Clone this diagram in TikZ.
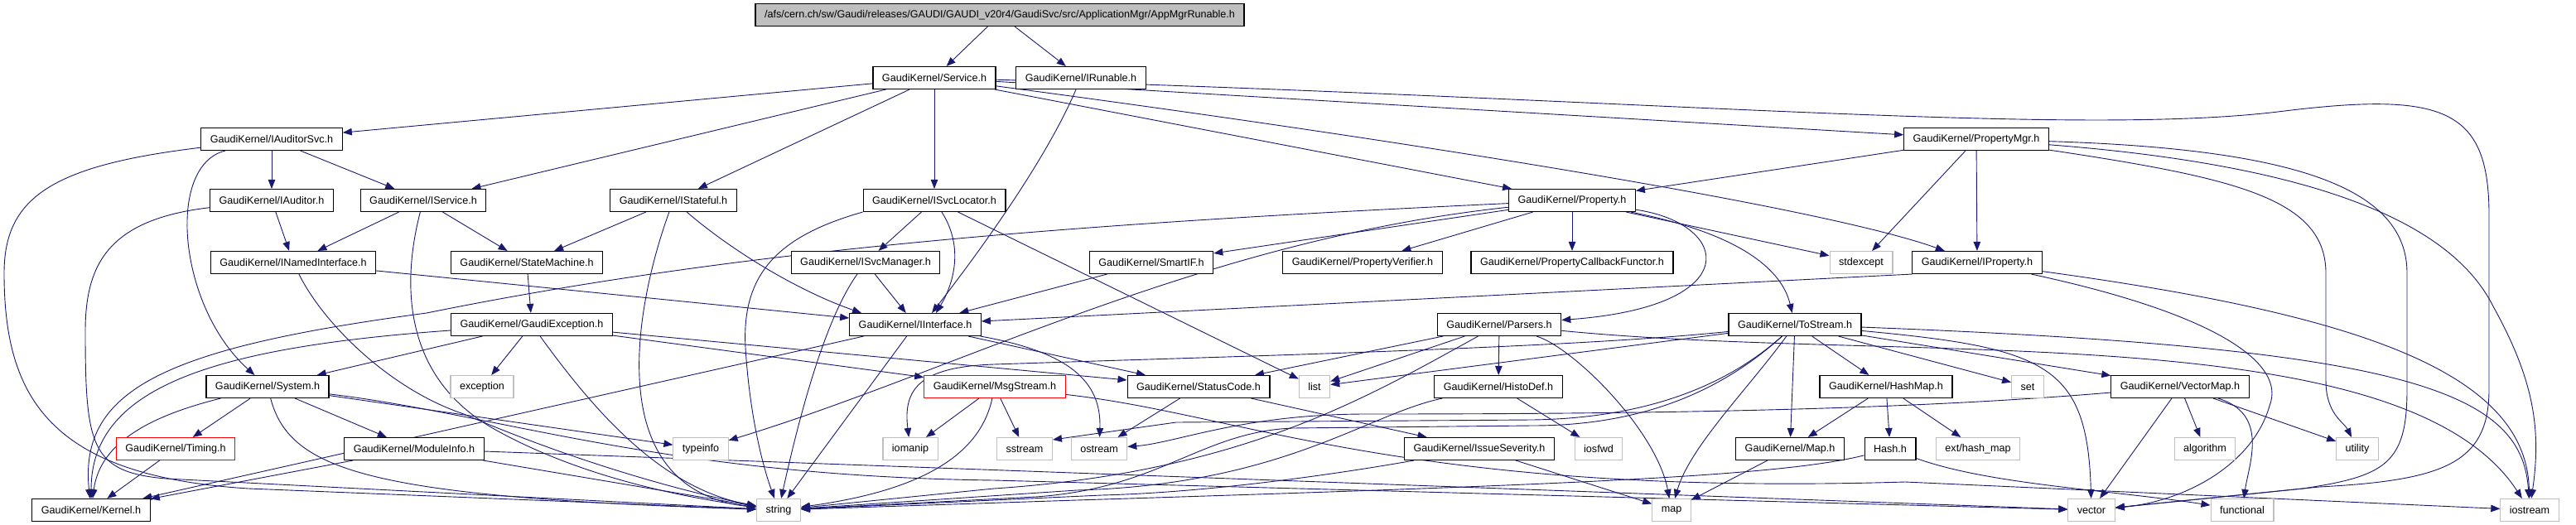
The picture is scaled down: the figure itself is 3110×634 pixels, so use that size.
\documentclass[tikz,border=0pt]{standalone}
\usepackage{fontspec}
\setmainfont{Liberation Sans}
\usetikzlibrary{arrows.meta}
\definecolor{edgeblue}{RGB}{25,25,112}
\definecolor{sysgray}{RGB}{191,191,191}
\newcommand{\gk}[1]{GaudiKernel/#1}
\pgfdeclarelayer{edges}
\pgfsetlayers{edges,main}

\begin{document}
\begin{tikzpicture}[x=1pt,y=1pt,
  hdr/.style={draw=black,fill=white,line width=1.1pt,minimum height=27pt,inner xsep=11pt,inner ysep=0pt,font=\fontsize{12.6}{15}\selectfont},
  syshdr/.style={hdr,draw=sysgray},
  cuthdr/.style={hdr,draw=red},
  tophdr/.style={hdr,fill=sysgray},
  inc/.style={draw=edgeblue,line width=0.9pt,-{Triangle[length=11pt,width=8.5pt]}}]
\useasboundingbox (0,0) rectangle (3110,-634);

\node[tophdr] (root) at (1207,-18) {/afs/cern.ch/sw/Gaudi/releases/GAUDI/GAUDI\_v20r4/GaudiSvc/src/ApplicationMgr/AppMgrRunable.h};
\node[hdr] (service) at (1128,-94) {\gk{Service.h}};
\node[hdr] (irunable) at (1305,-94) {\gk{IRunable.h}};
\node[hdr] (iauditorsvc) at (328,-168) {\gk{IAuditorSvc.h}};
\node[hdr] (propmgr) at (2386,-168) {\gk{PropertyMgr.h}};
\node[hdr] (iauditor) at (328,-242) {\gk{IAuditor.h}};
\node[hdr] (iservice) at (511,-242) {\gk{IService.h}};
\node[hdr] (istateful) at (813,-242) {\gk{IStateful.h}};
\node[hdr] (isvcloc) at (1128,-242) {\gk{ISvcLocator.h}};
\node[hdr] (property) at (1898,-242) {\gk{Property.h}};
\node[hdr] (inamed) at (354,-317) {\gk{INamedInterface.h}};
\node[hdr] (statemachine) at (636,-317) {\gk{StateMachine.h}};
\node[hdr] (isvcmgr) at (1045,-317) {\gk{ISvcManager.h}};
\node[hdr] (smartif) at (1390,-317) {\gk{SmartIF.h}};
\node[hdr] (propverif) at (1645,-317) {\gk{PropertyVerifier.h}};
\node[hdr] (propcb) at (1898,-317) {\gk{PropertyCallbackFunctor.h}};
\node[syshdr] (stdexcept) at (2247,-317) {stdexcept};
\node[hdr] (iproperty) at (2387,-317) {\gk{IProperty.h}};
\node[hdr] (gexcept) at (642,-392) {\gk{GaudiException.h}};
\node[hdr] (iinterface) at (1105,-392) {\gk{IInterface.h}};
\node[hdr] (parsers) at (1810,-392) {\gk{Parsers.h}};
\node[hdr] (tostream) at (2167,-392) {\gk{ToStream.h}};
\node[hdr] (system) at (323,-467) {\gk{System.h}};
\node[syshdr] (exception) at (582,-467) {exception};
\node[cuthdr] (msgstream) at (1201,-467) {\gk{MsgStream.h}};
\node[hdr] (statuscode) at (1447,-467) {\gk{StatusCode.h}};
\node[syshdr] (list) at (1587,-467) {list};
\node[hdr] (histodef) at (1809,-467) {\gk{HistoDef.h}};
\node[hdr] (hashmap) at (2277,-467) {\gk{HashMap.h}};
\node[syshdr] (set) at (2448,-467) {set};
\node[hdr] (vectormap) at (2632,-467) {\gk{VectorMap.h}};
\node[cuthdr] (timing) at (212,-542) {\gk{Timing.h}};
\node[hdr] (moduleinfo) at (500,-542) {\gk{ModuleInfo.h}};
\node[syshdr] (typeinfo) at (846,-542) {typeinfo};
\node[syshdr] (iomanip) at (1099,-542) {iomanip};
\node[syshdr] (sstream) at (1237,-542) {sstream};
\node[syshdr] (ostream) at (1327,-542) {ostream};
\node[hdr] (issuesev) at (1786,-542) {\gk{IssueSeverity.h}};
\node[syshdr] (iosfwd) at (1930,-542) {iosfwd};
\node[hdr] (gkmap) at (2161,-542) {\gk{Map.h}};
\node[hdr] (hash) at (2282,-542) {Hash.h};
\node[syshdr] (hashmapext) at (2388,-542) {ext/hash\_map};
\node[syshdr] (algorithm) at (2662,-542) {algorithm};
\node[syshdr] (utility) at (2846,-542) {utility};
\node[hdr] (kernel) at (110,-616) {\gk{Kernel.h}};
\node[syshdr] (string) at (940,-616) {string};
\node[syshdr] (stdmap) at (2018,-616) {map};
\node[syshdr] (vector) at (2525,-616) {vector};
\node[syshdr] (functional) at (2707,-616) {functional};
\node[syshdr] (iostream) at (3054,-616) {iostream};

\begin{pgfonlayer}{edges}
\draw[inc] (root) -- (service);
\draw[inc] (root) -- (irunable);

\draw[inc] (service) -- (iauditorsvc);
\draw[inc] (service) -- (iservice);
\draw[inc] (service) -- (istateful);
\draw[inc] (service) -- (isvcloc);
\draw[inc] (service) -- (property);
\draw[inc] (service) -- (propmgr);
\draw[inc] (service) .. controls (1700,-170) and (2200,-250) .. (iproperty);
\draw[inc] (service) .. controls (2000,-120) and (2500,-165) .. (2750,-135) .. controls (2950,-110) and (3005,-130) .. (3005,-260) -- (3005,-470) .. controls (3005,-560) and (2950,-580) .. (2800,-588) -- (vector);

\draw[inc] (irunable) .. controls (1260,-200) and (1170,-320) .. ([xshift=20pt]iinterface.north);

\draw[inc] (iauditorsvc) -- (iauditor);
\draw[inc] (iauditorsvc) -- (iservice);
\draw[inc] (iauditorsvc) .. controls (200,-200) and (215,-370) .. (system);
\draw[inc] (iauditorsvc) .. controls (60,-200) and (5,-240) .. (5,-330) .. controls (5,-480) and (60,-575) .. (300,-590) -- (string);

\draw[inc] (iauditor) -- (inamed);
\draw[inc] (iauditor) .. controls (130,-265) and (103,-320) .. (103,-400) .. controls (103,-540) and (110,-570) .. (200,-578) -- (string);

\draw[inc] (iservice) -- (inamed);
\draw[inc] (iservice) -- (statemachine);
\draw[inc] (iservice) .. controls (483,-350) and (490,-460) .. (600,-520) .. controls (700,-575) and (820,-600) .. (string);

\draw[inc] (inamed) -- (iinterface);
\draw[inc] (inamed) .. controls (390,-390) and (470,-470) .. (560,-500) .. controls (700,-560) and (830,-595) .. (string);

\draw[inc] (istateful) -- (statemachine);
\draw[inc] (istateful) .. controls (880,-300) and (960,-350) .. ([xshift=-65pt]iinterface.north);
\draw[inc] (istateful) .. controls (770,-360) and (720,-590) .. (string);

\draw[inc] (statemachine) -- (gexcept);

\draw[inc] (isvcloc) -- (isvcmgr);
\draw[inc] (isvcloc) .. controls (1165,-300) and (1150,-345) .. ([xshift=25pt]iinterface.north);
\draw[inc] (isvcloc.south west) .. controls (940,-285) and (895,-330) .. (900,-420) .. controls (905,-500) and (920,-560) .. (string);
\draw[inc] (isvcloc) -- (list);

\draw[inc] (isvcmgr) -- (iinterface);
\draw[inc] (isvcmgr) .. controls (1000,-380) and (970,-480) .. (string);

\draw[inc] (smartif) -- (iinterface);

\draw[inc] (property) -- (smartif);
\draw[inc] (property) -- (propverif);
\draw[inc] (property) -- (propcb);
\draw[inc] (property) -- (stdexcept);
\draw[inc] (property) .. controls (2090,-270) and (2110,-370) .. (parsers);
\draw[inc] (property) .. controls (2090,-280) and (2150,-320) .. (tostream);
\draw[inc] (property) .. controls (1300,-270) and (900,-300) .. (515,-378) .. controls (200,-420) and (95,-470) .. (kernel);
\draw[inc] (property) .. controls (1450,-290) and (1150,-450) .. (typeinfo);

\draw[inc] (propmgr) -- (property);
\draw[inc] (propmgr) -- (stdexcept);
\draw[inc] (propmgr) -- (iproperty);
\draw[inc] (propmgr) .. controls (2700,-215) and (2808,-240) .. (2808,-330) -- (2808,-460) .. controls (2808,-500) and (2830,-510) .. (utility);
\draw[inc] (propmgr) .. controls (2780,-180) and (2906,-230) .. (2906,-330) -- (2906,-470) .. controls (2906,-560) and (2880,-575) .. (2780,-590) -- (vector);
\draw[inc] (propmgr) .. controls (2800,-200) and (2960,-270) .. (3010,-370) .. controls (3060,-460) and (3068,-520) .. (iostream);

\draw[inc] (iproperty.south west) -- (iinterface);
\draw[inc] (iproperty) .. controls (2850,-380) and (3050,-450) .. (iostream);
\draw[inc] (iproperty) .. controls (2680,-380) and (2760,-440) .. (2740,-490) .. controls (2720,-560) and (2640,-605) .. (vector);

\draw[inc] (gexcept) .. controls (250,-420) and (110,-470) .. (kernel);
\draw[inc] (gexcept) -- (system);
\draw[inc] (gexcept) -- (exception);
\draw[inc] (gexcept) -- (msgstream);
\draw[inc] (gexcept) -- (statuscode);
\draw[inc] (gexcept) .. controls (720,-500) and (800,-590) .. (string);

\draw[inc] (iinterface) -- (kernel);
\draw[inc] (iinterface) -- (string);
\draw[inc] (iinterface) -- (statuscode);
\draw[inc] (iinterface) .. controls (1290,-425) and (1330,-460) .. (ostream);

\draw[inc] (system) .. controls (170,-505) and (120,-540) .. (kernel);
\draw[inc] (system) -- (timing);
\draw[inc] (system) -- (moduleinfo);
\draw[inc] (system) -- (typeinfo);
\draw[inc] (system) .. controls (350,-570) and (450,-600) .. (string);
\draw[inc] (system) .. controls (600,-500) and (800,-575) .. (1200,-580) -- (vector);

\draw[inc] (timing) -- (kernel);

\draw[inc] (moduleinfo) -- (kernel);
\draw[inc] (moduleinfo) -- (string);
\draw[inc] (moduleinfo) -- (vector);

\draw[inc] (msgstream) -- (iomanip);
\draw[inc] (msgstream) -- (sstream);
\draw[inc] (msgstream) .. controls (1185,-540) and (1130,-590) .. (string);
\draw[inc] (msgstream) .. controls (1500,-500) and (1700,-600) .. (2300,-582) -- (iostream);

\draw[inc] (statuscode) -- (ostream);
\draw[inc] (statuscode) -- (issuesev);

\draw[inc] (parsers) -- (histodef);
\draw[inc] (parsers) -- (statuscode);
\draw[inc] (parsers) -- (list);
\draw[inc] (parsers) .. controls (1900,-420) and (2000,-520) .. (stdmap);
\draw[inc] (parsers) .. controls (1650,-480) and (1500,-570) .. (1200,-590) -- (string);
\draw[inc] (parsers) .. controls (2300,-440) and (2900,-380) .. (iostream);

\draw[inc] (histodef) -- (iosfwd);
\draw[inc] (histodef) .. controls (1650,-500) and (1550,-585) .. (1300,-592) -- (string);

\draw[inc] (issuesev) -- (stdmap);
\draw[inc] (issuesev) .. controls (1600,-575) and (1450,-595) .. (1330,-598) -- (string);

\draw[inc] (tostream) -- (gkmap);
\draw[inc] (tostream) -- (hashmap);
\draw[inc] (tostream) -- (set);
\draw[inc] (tostream) -- (vectormap);
\draw[inc] (tostream) -- (list);
\draw[inc] (tostream) .. controls (2470,-420) and (2520,-440) .. (vector);
\draw[inc] (tostream) .. controls (2900,-420) and (3045,-470) .. (iostream);
\draw[inc] (tostream) .. controls (2110,-470) and (2040,-540) .. (stdmap);
\draw[inc] (tostream) .. controls (1900,-420) and (1500,-430) .. (1200,-440) .. controls (1110,-443) and (1090,-470) .. (iomanip);
\draw[inc] (tostream) .. controls (2080,-470) and (1980,-505) .. (1850,-507) -- (1420,-510) -- ([yshift=11pt]sstream.east);
\draw[inc] (tostream) .. controls (2070,-480) and (1970,-514) .. (1850,-514) -- (1560,-517) .. controls (1450,-522) and (1400,-590) .. (1250,-600) -- (string);

\draw[inc] (hashmap) -- (gkmap);
\draw[inc] (hashmap) -- (hash);
\draw[inc] (hashmap) -- (hashmapext);

\draw[inc] (gkmap) -- (stdmap);

\draw[inc] (hash) .. controls (2150,-575) and (1900,-585) .. (1300,-604) -- (string);
\draw[inc] (hash) .. controls (2400,-585) and (2550,-592) .. (functional);

\draw[inc] (vectormap) -- (algorithm);
\draw[inc] (vectormap) -- (utility);
\draw[inc] (vectormap) -- (vector);
\draw[inc] (vectormap) .. controls (2740,-500) and (2715,-560) .. (functional);
\draw[inc] (vectormap) .. controls (2300,-495) and (2000,-500) .. (1650,-500) .. controls (1500,-500) and (1420,-535) .. (ostream);
\end{pgfonlayer}
\end{tikzpicture}
\end{document}
